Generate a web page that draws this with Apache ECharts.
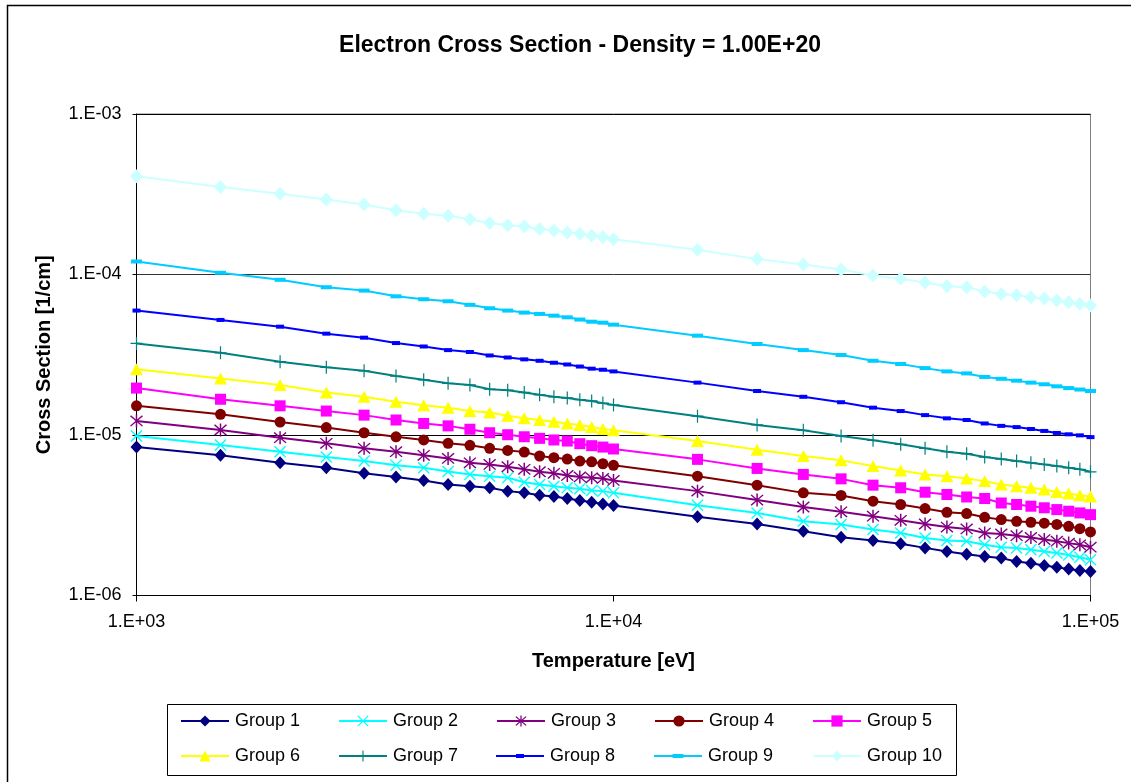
<!DOCTYPE html>
<html>
<head>
<meta charset="utf-8">
<script src="https://cdn.jsdelivr.net/npm/echarts@6/dist/echarts.min.js"></script>
<style>
html,body{margin:0;padding:0;background:#fff;}
#chart{width:1131px;height:782px;}
</style>
</head>
<body>
<div id="chart"></div>
<script>
const temperatures = [1000,1500,2000,2500,3000,3500,4000,4500,5000,5500,6000,6500,7000,7500,8000,8500,9000,9500,10000,
  15000,20000,25000,30000,35000,40000,45000,50000,55000,60000,65000,70000,75000,80000,85000,90000,95000,100000];

const group1 = [8.41e-6,7.47e-6,6.71e-6,6.25e-6,5.77e-6,5.48e-6,5.21e-6,4.92e-6,4.80e-6,4.69e-6,4.47e-6,4.36e-6,4.22e-6,4.14e-6,4.02e-6,3.91e-6,3.81e-6,3.72e-6,3.64e-6,
  3.09e-6,2.79e-6,2.51e-6,2.31e-6,2.20e-6,2.10e-6,1.98e-6,1.88e-6,1.81e-6,1.75e-6,1.71e-6,1.63e-6,1.59e-6,1.54e-6,1.50e-6,1.46e-6,1.43e-6,1.41e-6];
const group2 = [9.86e-6,8.66e-6,7.87e-6,7.29e-6,6.88e-6,6.49e-6,6.25e-6,5.93e-6,5.68e-6,5.54e-6,5.41e-6,5.08e-6,4.92e-6,4.80e-6,4.69e-6,4.62e-6,4.51e-6,4.47e-6,4.36e-6,
  3.65e-6,3.27e-6,2.90e-6,2.77e-6,2.58e-6,2.45e-6,2.28e-6,2.20e-6,2.18e-6,2.07e-6,2.00e-6,1.98e-6,1.93e-6,1.88e-6,1.84e-6,1.79e-6,1.73e-6,1.67e-6];
const group3 = [1.224e-5,1.074e-5,9.62e-6,8.87e-6,8.26e-6,7.87e-6,7.47e-6,7.15e-6,6.71e-6,6.56e-6,6.34e-6,6.11e-6,5.90e-6,5.77e-6,5.60e-6,5.48e-6,5.41e-6,5.36e-6,5.21e-6,
  4.47e-6,3.93e-6,3.56e-6,3.32e-6,3.12e-6,2.94e-6,2.79e-6,2.67e-6,2.60e-6,2.45e-6,2.42e-6,2.36e-6,2.30e-6,2.23e-6,2.18e-6,2.12e-6,2.07e-6,2.00e-6];
const group4 = [1.52e-5,1.346e-5,1.205e-5,1.112e-5,1.033e-5,9.75e-6,9.31e-6,8.87e-6,8.63e-6,8.26e-6,8.02e-6,7.83e-6,7.40e-6,7.22e-6,7.08e-6,6.88e-6,6.81e-6,6.62e-6,6.47e-6,
  5.54e-6,4.87e-6,4.36e-6,4.20e-6,3.87e-6,3.69e-6,3.48e-6,3.30e-6,3.24e-6,3.07e-6,2.97e-6,2.90e-6,2.86e-6,2.82e-6,2.77e-6,2.70e-6,2.61e-6,2.49e-6];
const group5 = [1.96e-5,1.67e-5,1.52e-5,1.41e-5,1.33e-5,1.24e-5,1.18e-5,1.14e-5,1.086e-5,1.033e-5,1.004e-5,9.75e-6,9.53e-6,9.31e-6,9.17e-6,8.83e-6,8.58e-6,8.41e-6,8.18e-6,
  7.05e-6,6.19e-6,5.68e-6,5.33e-6,4.87e-6,4.69e-6,4.40e-6,4.26e-6,4.11e-6,4.02e-6,3.77e-6,3.69e-6,3.60e-6,3.52e-6,3.43e-6,3.35e-6,3.27e-6,3.19e-6];
const group6 = [2.57e-5,2.25e-5,2.05e-5,1.84e-5,1.73e-5,1.61e-5,1.53e-5,1.48e-5,1.41e-5,1.38e-5,1.32e-5,1.27e-5,1.24e-5,1.21e-5,1.18e-5,1.155e-5,1.12e-5,1.09e-5,1.07e-5,
  9.17e-6,8.09e-6,7.40e-6,6.95e-6,6.40e-6,6.01e-6,5.68e-6,5.54e-6,5.36e-6,5.16e-6,4.92e-6,4.80e-6,4.69e-6,4.58e-6,4.42e-6,4.32e-6,4.22e-6,4.14e-6];
const group7 = [3.72e-5,3.25e-5,2.86e-5,2.64e-5,2.51e-5,2.33e-5,2.21e-5,2.10e-5,2.05e-5,1.93e-5,1.90e-5,1.84e-5,1.78e-5,1.73e-5,1.70e-5,1.66e-5,1.63e-5,1.58e-5,1.54e-5,
  1.31e-5,1.155e-5,1.07e-5,9.86e-6,9.27e-6,8.75e-6,8.26e-6,7.87e-6,7.64e-6,7.29e-6,7.08e-6,6.88e-6,6.71e-6,6.56e-6,6.40e-6,6.25e-6,6.11e-6,5.90e-6];
const group8 = [5.96e-5,5.21e-5,4.73e-5,4.28e-5,4.04e-5,3.74e-5,3.56e-5,3.38e-5,3.29e-5,3.13e-5,3.04e-5,2.96e-5,2.90e-5,2.82e-5,2.75e-5,2.67e-5,2.59e-5,2.55e-5,2.49e-5,
  2.12e-5,1.88e-5,1.73e-5,1.60e-5,1.48e-5,1.41e-5,1.33e-5,1.27e-5,1.24e-5,1.18e-5,1.14e-5,1.12e-5,1.09e-5,1.06e-5,1.03e-5,1.01e-5,9.95e-6,9.70e-6];
const group9 = [1.205e-4,1.025e-4,9.27e-5,8.33e-5,7.94e-5,7.31e-5,7.01e-5,6.81e-5,6.47e-5,6.16e-5,5.96e-5,5.79e-5,5.68e-5,5.54e-5,5.41e-5,5.24e-5,5.08e-5,5.01e-5,4.87e-5,
  4.16e-5,3.69e-5,3.38e-5,3.15e-5,2.90e-5,2.77e-5,2.61e-5,2.49e-5,2.42e-5,2.30e-5,2.24e-5,2.18e-5,2.12e-5,2.07e-5,2.01e-5,1.96e-5,1.92e-5,1.88e-5];
const group10 = [4.10e-4,3.51e-4,3.19e-4,2.93e-4,2.73e-4,2.51e-4,2.39e-4,2.32e-4,2.21e-4,2.09e-4,2.03e-4,1.99e-4,1.92e-4,1.88e-4,1.83e-4,1.795e-4,1.745e-4,1.71e-4,1.66e-4,
  1.426e-4,1.247e-4,1.155e-4,1.074e-4,9.86e-5,9.40e-5,8.91e-5,8.45e-5,8.33e-5,7.83e-5,7.57e-5,7.43e-5,7.21e-5,7.08e-5,6.88e-5,6.71e-5,6.56e-5,6.40e-5];

const seriesNames = ['Group 1','Group 2','Group 3','Group 4','Group 5','Group 6','Group 7','Group 8','Group 9','Group 10'];
const seriesValues = [group1,group2,group3,group4,group5,group6,group7,group8,group9,group10];
const xTickLabels = ['1.E+03','1.E+04','1.E+05'];
const yTickLabels = ['1.E-06','1.E-05','1.E-04','1.E-03'];

const FONT = 'Liberation Sans, Arial, sans-serif';
const colors = ['#000080','#00FFFF','#800080','#800000','#FF00FF','#FFFF00','#008080','#0000FF','#00CCFF','#CCFFFF'];
const diag = 'M1.3,2.7 L2.7,1.3 L18.7,17.3 L17.3,18.7 Z M17.3,1.3 L18.7,2.7 L2.7,18.7 L1.3,17.3 Z';
const symbols = [
  {s:'diamond', size:[12,13]},
  {s:'path://' + diag, size:[12,12]},
  {s:'path://M9,0 H11 V20 H9 Z ' + diag, size:[13,13]},
  {s:'circle', size:[11,11]},
  {s:'rect', size:[11,11]},
  {s:'triangle', size:[13,12]},
  {s:'path://M9,0 H11 V20 H9 Z M0,9 H20 V11 H0 Z', size:[12,13]},
  {s:'path://M0,0 H14 V8 H0 Z', size:[8,4]},
  {s:'path://M0,0 H20 V8 H0 Z', size:[11,4]},
  {s:'diamond', size:[13,14]}
];
// legend icons (line + dash) for the dash-marker series
const legendIcons = {
  7: 'path://M0,6 H48 V8 H0 Z M20,5 H28 V9 H20 Z',
  8: 'path://M0,6 H48 V8 H0 Z M18.5,5 H29.5 V9 H18.5 Z'
};

function expLabel(v){
  const e = Math.round(Math.log10(v));
  const a = Math.abs(e);
  return '1.E' + (e < 0 ? '-' : '+') + (a < 10 ? '0' + a : '' + a);
}

const series = seriesNames.map((name, k) => ({
  name: name,
  type: 'line',
  data: temperatures.map((t, i) => [t, seriesValues[k][i]]),
  symbol: symbols[k].s,
  symbolSize: symbols[k].size,
  symbolKeepAspect: false,
  showSymbol: true,
  lineStyle: {color: colors[k], width: 2},
  itemStyle: {color: colors[k], borderWidth: 0},
  emphasis: {disabled: true},
  animation: false,
  z: 2 + k
}));

const legendCols = [180, 338, 496, 654, 812];
const legendRows = [712, 747];
const legends = seriesNames.map((name, k) => ({
  data: [legendIcons[k] ? {name: name, icon: legendIcons[k]} : name],
  left: legendCols[k % 5],
  top: legendRows[Math.floor(k / 5)],
  itemWidth: 48,
  itemHeight: 14,
  itemGap: 0,
  padding: 0,
  symbolKeepAspect: true,
  selectedMode: false,
  textStyle: {fontFamily: FONT, fontSize: 18, color: '#000', padding: [0,0,0,1]}
}));

const chart = echarts.init(document.getElementById('chart'), null, {renderer: 'canvas'});
chart.setOption({
  backgroundColor: '#fff',
  animation: false,
  title: {
    text: 'Electron Cross Section - Density = 1.00E+20',
    left: 575, top: 29, textAlign: 'center',
    textStyle: {fontFamily: FONT, fontSize: 23, fontWeight: 'bold', color: '#000'}
  },
  legend: legends,
  grid: {left: 136.5, right: 40.5, top: 114, bottom: 186.5, show: true, borderColor: '#808080', borderWidth: 1, backgroundColor: 'transparent'},
  xAxis: {
    type: 'log', logBase: 10, min: 1000, max: 100000,
    name: 'Temperature [eV]', nameLocation: 'middle', nameGap: 56,
    nameTextStyle: {fontFamily: FONT, fontSize: 20, fontWeight: 'bold', color: '#000'},
    axisLine: {show: true, lineStyle: {color: '#000', width: 1}},
    axisTick: {show: true, length: 6, lineStyle: {color: '#000'}},
    minorTick: {show: false},
    splitLine: {show: false},
    axisLabel: {margin: 18, fontFamily: FONT, fontSize: 18, color: '#000',
      formatter: v => { const l = expLabel(v); return xTickLabels.indexOf(l) >= 0 ? l : ''; }}
  },
  yAxis: {
    type: 'log', logBase: 10, min: 1e-6, max: 1e-3,
    name: 'Cross Section [1/cm]', nameLocation: 'middle', nameGap: 82, nameRotate: 90,
    nameTextStyle: {fontFamily: FONT, fontSize: 20, fontWeight: 'bold', color: '#000'},
    axisLine: {show: true, lineStyle: {color: '#000', width: 1}},
    axisTick: {show: true, length: 4, lineStyle: {color: '#000'}},
    minorTick: {show: false},
    splitLine: {show: true, lineStyle: {color: ['#000', '#000', '#333', '#808080'], width: 1}},
    axisLabel: {margin: 15, fontFamily: FONT, fontSize: 18, color: '#000',
      formatter: v => { const l = expLabel(v); return yTickLabels.indexOf(l) >= 0 ? l : ''; }}
  },
  graphic: [
    {type: 'rect', shape: {x: 167.5, y: 704.5, width: 789, height: 71}, style: {fill: 'none', stroke: '#000', lineWidth: 1}, z: -1},
    {type: 'polyline', shape: {points: [[7.5, 782], [7.5, 5.5], [1131, 5.5]]}, style: {fill: 'none', stroke: '#000', lineWidth: 1.5}}
  ],
  series: series
});
</script>
</body>
</html>
